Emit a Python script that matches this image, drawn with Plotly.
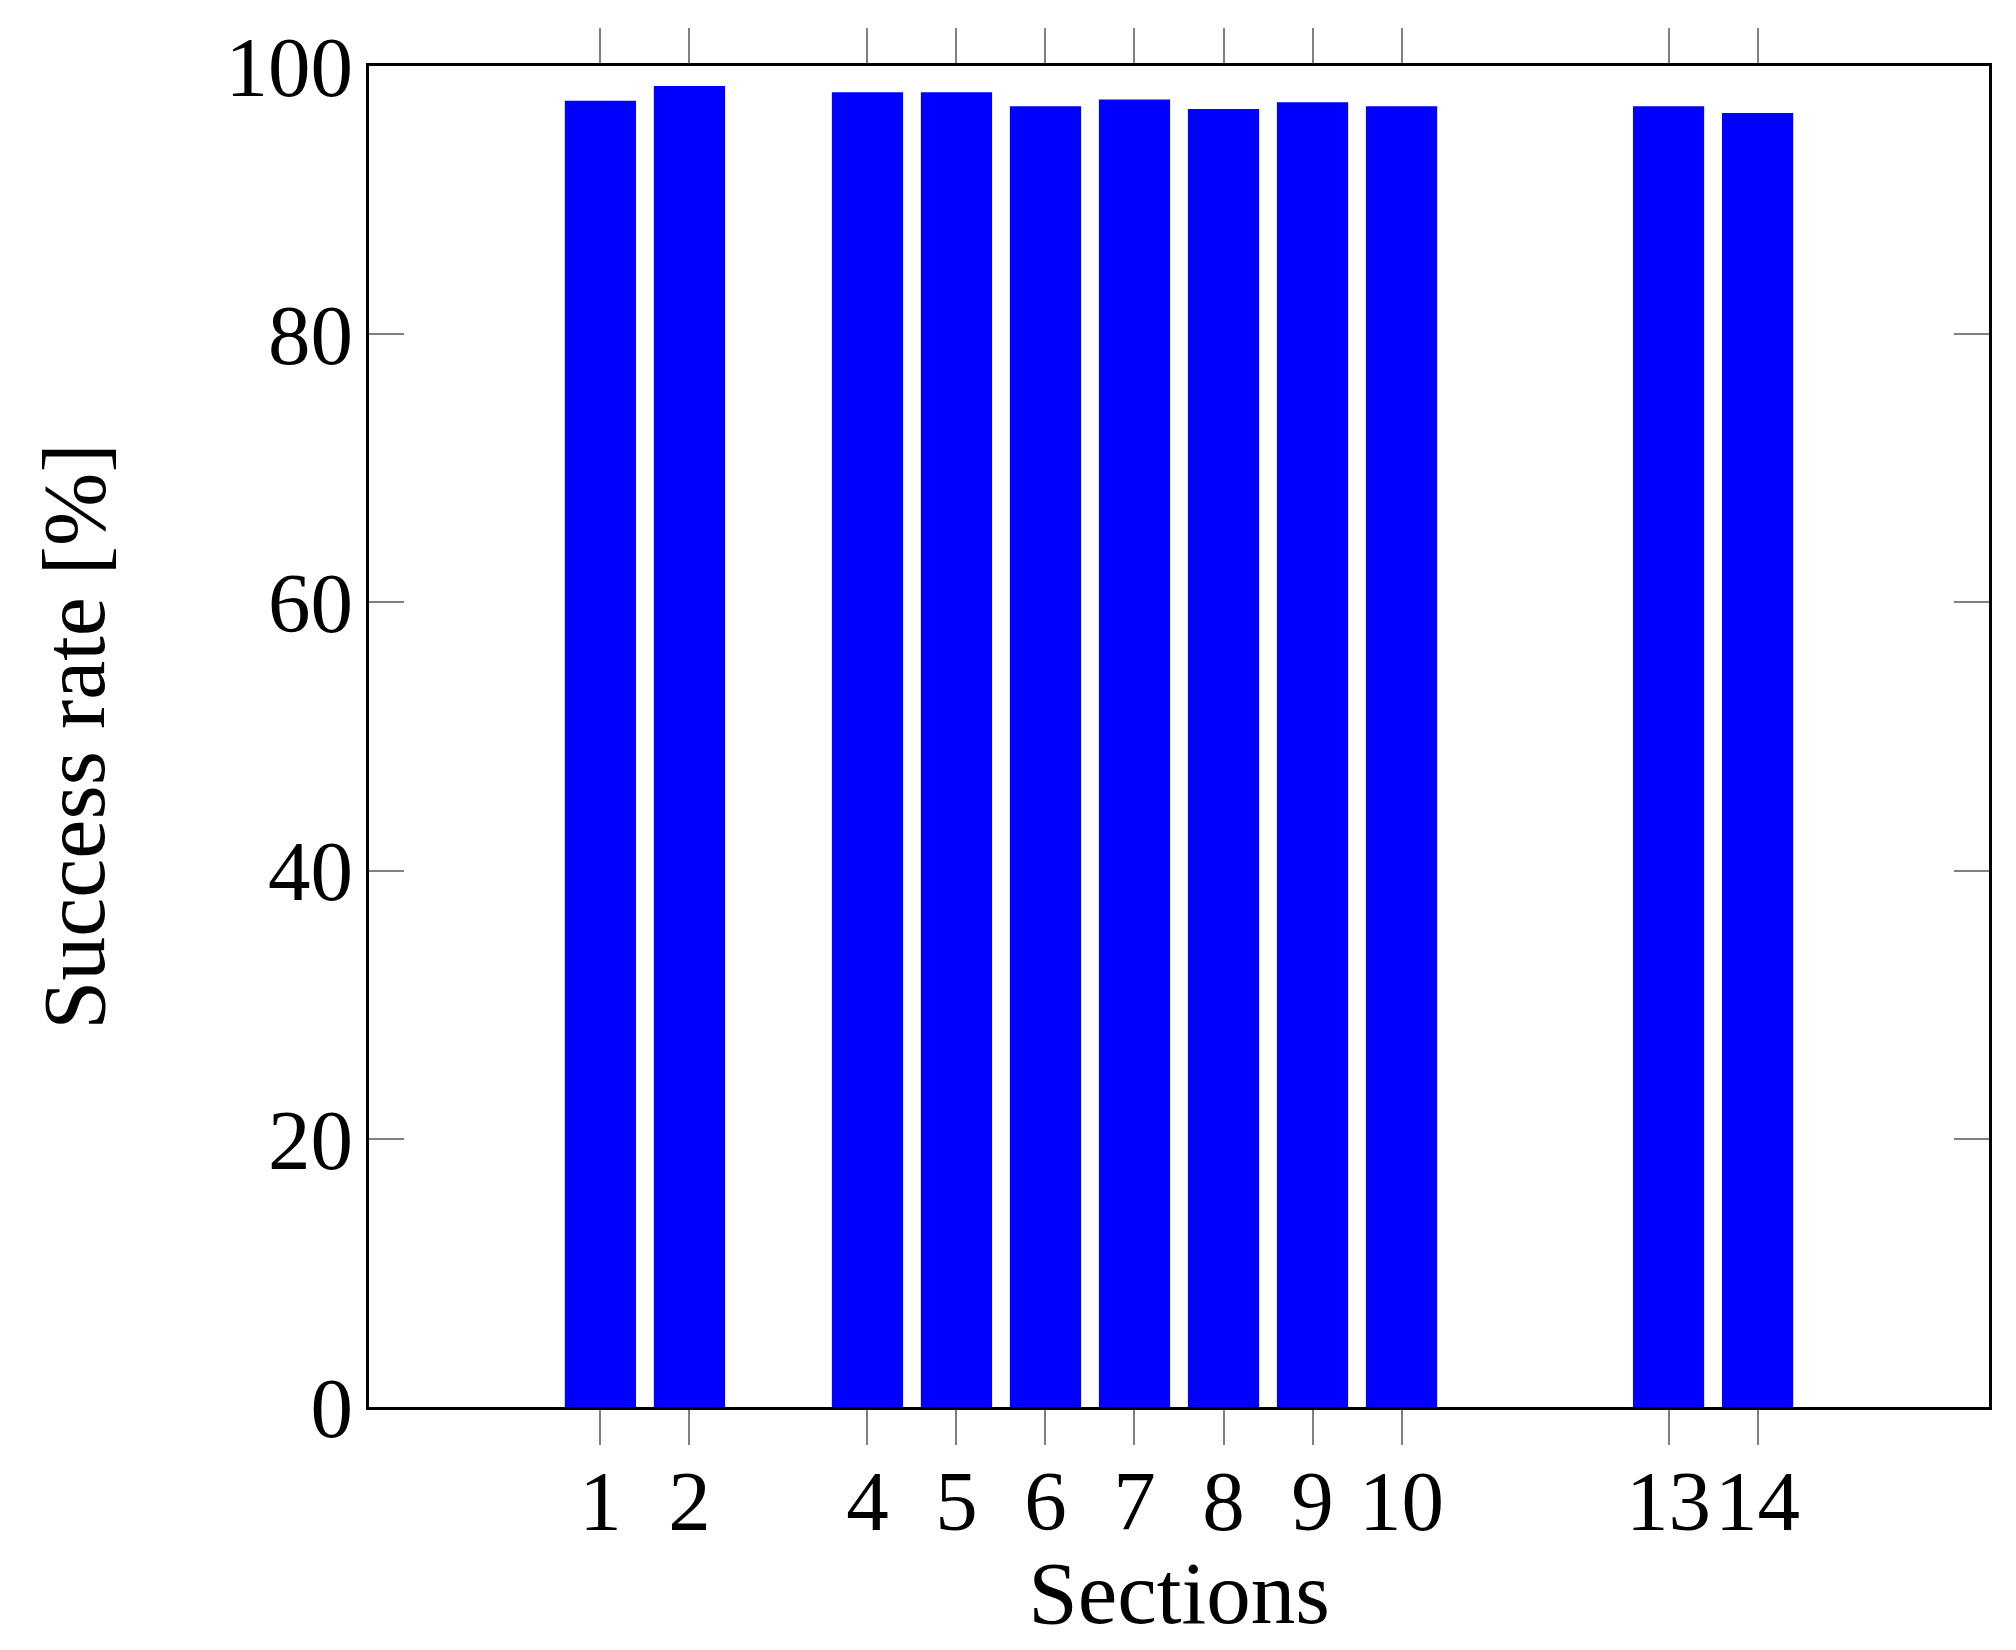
import plotly.graph_objects as go

# success rate per section (sections 3, 11, 12 missing)
sections = [1, 2, 4, 5, 6, 7, 8, 9, 10, 13, 14]
success_rate = [97.4, 98.5, 98.05, 98.05, 97.0, 97.5, 96.8, 97.3, 97.0, 97.0, 96.5]
y_ticks = [0, 20, 40, 60, 80, 100]

FONT = "Liberation Serif"

fig = go.Figure()
fig.add_trace(go.Bar(x=sections, y=success_rate, width=0.8,
                     marker=dict(color="#0000ff", line=dict(width=0))))

# page body has an 8px margin, so the figure is a bit smaller than the window
fig.update_layout(
    width=2000, height=1634,
    margin=dict(l=361, r=19, t=54, b=235),
    plot_bgcolor="white", paper_bgcolor="white",
    font=dict(family=FONT, size=85, color="black"),
    showlegend=False,
)

fig.update_xaxes(
    range=[-1.6, 16.6],
    tickvals=sections, ticktext=[str(s) for s in sections],
    showgrid=False, zeroline=False,
    showline=True, linecolor="black", linewidth=3, mirror="ticks",
    ticks="outside", ticklen=35, tickwidth=2, tickcolor="#808080",
    ticklabelstandoff=-17,
    title=dict(text="Sections", standoff=17, font=dict(family=FONT, size=89)),
)
fig.update_yaxes(
    range=[0, 100],
    tickvals=y_ticks,
    showgrid=False, zeroline=False,
    showline=True, linecolor="black", linewidth=3, mirror="ticks",
    ticks="inside", ticklen=35, tickwidth=2, tickcolor="#808080",
    ticklabelstandoff=-4,
    title=dict(text="Success rate [%]", standoff=92, font=dict(family=FONT, size=88)),
)

fig.write_html("out.html")
